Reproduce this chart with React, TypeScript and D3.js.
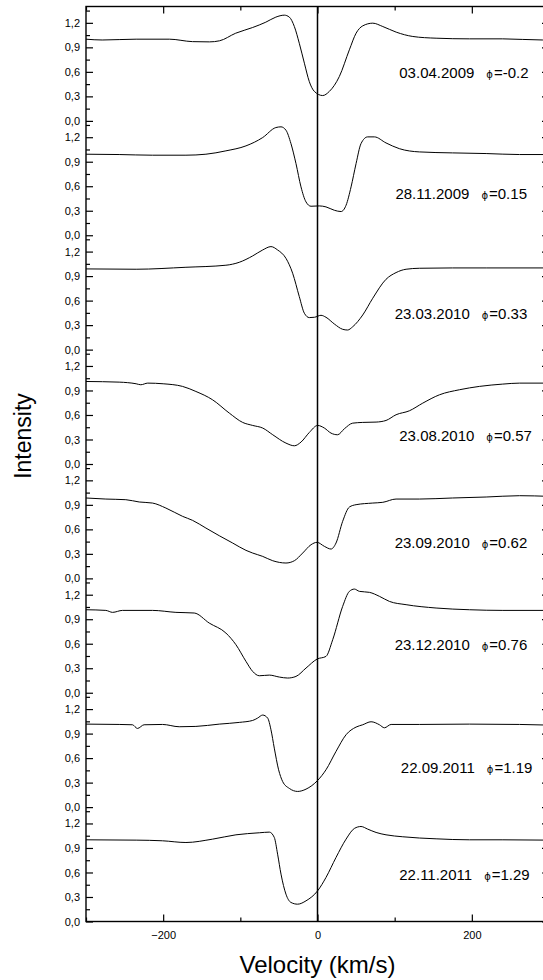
import React, { useEffect, useRef } from 'react';
import * as d3 from 'd3';

// observation dates and phases, one per panel (top to bottom)
const dates = ['03.04.2009', '28.11.2009', '23.03.2010', '23.08.2010', '23.09.2010', '23.12.2010', '22.09.2011', '22.11.2011'];
const phases = ['-0.2', '0.15', '0.33', '0.57', '0.62', '0.76', '1.19', '1.29'];
// where each label sits, in velocity / intensity units of its panel
const labelV = [106, 101, 100, 106, 100, 100, 108, 106];
const labelI = [0.59, 0.5, 0.44, 0.345, 0.43, 0.58, 0.48, 0.57];

const yTicks = [0, 0.3, 0.6, 0.9, 1.2];
const yMinorTicks = [0.15, 0.45, 0.75, 1.05, 1.35];
const xTicks = [-200, 0, 200];
const xMinorTicks = [-300, -100, 100, 300];

// profiles: [velocity km/s, intensity]
const spec1 = [
  [-300, 1.0], [-279, 0.99], [-235, 1.0], [-192, 1.0], [-162, 0.97], [-140, 0.967], [-127, 0.98],
  [-106, 1.073], [-84, 1.143], [-67, 1.208], [-54, 1.27], [-43, 1.294], [-36.5, 1.27], [-30, 1.155],
  [-23.6, 0.95], [-17, 0.706], [-10.6, 0.48], [-4, 0.36], [6.7, 0.31], [15.3, 0.36], [28.3, 0.543],
  [41.3, 0.87], [50, 1.073], [58.6, 1.163], [71.6, 1.196], [84.6, 1.155], [102, 1.086], [123.5, 1.033],
  [153.7, 1.012], [197, 1.004], [240, 1.004], [292, 0.99], [300, 0.99],
];
const spec2 = [
  [-300, 0.992], [-257, 0.988], [-214, 0.98], [-170.5, 0.98], [-144.6, 0.992], [-118.7, 1.033],
  [-92.7, 1.094], [-71, 1.196], [-54, 1.318], [-47.3, 1.327], [-40.9, 1.286], [-34.4, 1.122],
  [-27.9, 0.878], [-21.4, 0.592], [-14.9, 0.408], [-8.4, 0.355], [2.4, 0.359], [11, 0.347],
  [21.8, 0.306], [30.5, 0.29], [37, 0.367], [43.5, 0.592], [50, 0.878], [56.4, 1.122], [65, 1.204],
  [73.7, 1.204], [88.8, 1.13], [106, 1.06], [132, 1.02], [175, 1.008], [218.6, 1.0], [261.8, 0.988],
  [300, 0.988],
];
const spec3 = [
  [-300, 0.988], [-235, 0.984], [-170.5, 1.008], [-118.7, 1.033], [-101.4, 1.069], [-84, 1.147],
  [-71, 1.22], [-60.3, 1.261], [-51.7, 1.22], [-40.9, 1.118], [-32.2, 0.935], [-23.6, 0.649],
  [-17, 0.445], [-10.6, 0.392], [-4, 0.396], [4.5, 0.42], [11, 0.396], [21.8, 0.314], [32.6, 0.249],
  [39, 0.24], [45.6, 0.28], [58.6, 0.424], [71.6, 0.629], [88.8, 0.861], [101.8, 0.943],
  [114.8, 0.984], [132, 0.996], [175, 1.0], [218.6, 1.0], [300, 1.0],
];
const spec4 = [
  [-300, 1.01], [-257, 1.002], [-235, 0.982], [-229, 0.97], [-220, 0.99], [-200, 0.982],
  [-175, 0.95], [-157.6, 0.888], [-136, 0.786], [-114.3, 0.623], [-97, 0.509], [-84, 0.472],
  [-71, 0.44], [-58, 0.358], [-40.9, 0.256], [-30, 0.223], [-21.4, 0.268], [-10.6, 0.386],
  [0.2, 0.472], [8.9, 0.44], [17.5, 0.378], [26, 0.358], [34.8, 0.431], [45.6, 0.5], [58.6, 0.509],
  [75.9, 0.513], [88.8, 0.533], [101.8, 0.603], [119, 0.651], [136.4, 0.745], [158, 0.847],
  [184, 0.909], [210, 0.95], [240, 0.978], [262, 0.99], [300, 0.99],
];
const spec5 = [
  [-300, 0.984], [-274.3, 0.971], [-248.4, 0.963], [-231, 0.935], [-213.8, 0.922], [-196.5, 0.861],
  [-174.8, 0.759], [-161.9, 0.71], [-144.6, 0.616], [-127.3, 0.522], [-110, 0.433], [-92.7, 0.343],
  [-84, 0.31], [-71, 0.269], [-58, 0.216], [-40.9, 0.188], [-30, 0.216], [-19.2, 0.31], [-8.4, 0.412],
  [-0.6, 0.441], [8.9, 0.392], [17.5, 0.359], [24, 0.433], [32.6, 0.698], [41.3, 0.873], [50, 0.902],
  [71.6, 0.922], [84.6, 0.931], [101.8, 0.971], [132, 0.971], [175, 0.984], [218.6, 0.996],
  [261.8, 1.012], [300, 1.004],
];
const spec6 = [
  [-300, 1.016], [-274.3, 1.008], [-265.6, 0.984], [-252.7, 1.008], [-213.8, 1.008], [-183.5, 0.984],
  [-159.8, 0.976], [-140.3, 0.853], [-118.7, 0.731], [-105.7, 0.588], [-92.7, 0.384], [-84, 0.261],
  [-75.4, 0.208], [-62.4, 0.216], [-49.4, 0.192], [-38.7, 0.18], [-27.9, 0.2], [-14.9, 0.302],
  [-0.6, 0.412], [11, 0.445], [19.7, 0.649], [32.6, 1.057], [41.3, 1.241], [47.8, 1.269],
  [54.3, 1.241], [67.3, 1.229], [80.3, 1.18], [93.2, 1.118], [114.8, 1.078], [153.7, 1.037],
  [197, 1.016], [240.2, 1.008], [300, 1.008],
];
const spec7 = [
  [-300, 1.016], [-257, 1.012], [-239.8, 1.008], [-233.3, 0.963], [-224.7, 1.008], [-200.9, 1.012],
  [-179.2, 0.984], [-157.6, 0.988], [-127.3, 1.016], [-101.4, 1.037], [-84, 1.061], [-77.6, 1.09],
  [-71, 1.127], [-64.6, 1.09], [-60.3, 0.947], [-56, 0.722], [-50.4, 0.457], [-45.2, 0.314],
  [-36.5, 0.229], [-25.7, 0.192], [-14.9, 0.22], [0.2, 0.327], [11, 0.457], [24, 0.682], [37, 0.886],
  [50, 0.98], [58.6, 1.008], [69.4, 1.045], [80.3, 1.008], [86.7, 0.971], [95.4, 1.012], [132, 1.012],
  [197, 1.016], [261.8, 1.012], [300, 1.004],
];
const spec8 = [
  [-300, 1.0], [-235, 0.996], [-200.9, 0.988], [-170.5, 0.967], [-136, 1.008], [-105.7, 1.061],
  [-75.4, 1.086], [-62.4, 1.094], [-56, 1.029], [-51.7, 0.824], [-47.3, 0.58], [-40.9, 0.335],
  [-34.4, 0.233], [-25.7, 0.212], [-14.9, 0.253], [0.2, 0.376], [11, 0.539], [24, 0.784], [37, 1.008],
  [47.8, 1.139], [56.4, 1.163], [65, 1.131], [75.9, 1.09], [88.8, 1.061], [110.5, 1.037],
  [153.7, 1.012], [197, 1.0], [240.2, 1.0], [300, 0.996],
];
const spectra = [spec1, spec2, spec3, spec4, spec5, spec6, spec7, spec8];

const comma = (d: number) => d3.format('.1f')(d).replace('.', ',');
const font = 'Liberation Sans, Arial, sans-serif';

function App() {
  const ref = useRef<SVGSVGElement>(null);

  useEffect(() => {
    const width = 543;
    const height = 980;
    const top = 6.5;
    const bottom = 921.5;
    const left = 86;
    const right = 549; // right frame sits just outside the picture
    const ph = (bottom - top) / spectra.length;

    const svg = d3.select(ref.current);
    svg.selectAll('*').remove();
    svg.attr('width', width).attr('height', height);

    const x = d3.scaleLinear().domain([-300, 300]).range([left, right]);

    svg.append('defs').append('clipPath').attr('id', 'plot')
      .append('rect').attr('x', left).attr('y', top).attr('width', right - left).attr('height', bottom - top);

    spectra.forEach((spec, i) => {
      const y = d3.scaleLinear().domain([0, 1.4]).range([top + (i + 1) * ph, top + i * ph]);

      // left axis, ticks pointing inward
      const gl = svg.append('g').attr('transform', `translate(${left},0)`)
        .call(d3.axisLeft(y).tickValues(yTicks).tickSizeInner(-7).tickSizeOuter(0).tickPadding(6).tickFormat(comma as any));
      gl.select('.domain').remove();
      gl.selectAll('text').style('font-family', font).style('font-size', '11px').attr('fill', '#000');
      const glm = svg.append('g').attr('transform', `translate(${left},0)`)
        .call(d3.axisLeft(y).tickValues(yMinorTicks).tickSizeInner(-4).tickSizeOuter(0).tickFormat(() => ''));
      glm.select('.domain').remove();

      // right axis ticks
      const gr = svg.append('g').attr('transform', `translate(${right},0)`)
        .call(d3.axisRight(y).tickValues(yTicks).tickSizeInner(-7).tickSizeOuter(0).tickFormat(() => ''));
      gr.select('.domain').remove();
      const grm = svg.append('g').attr('transform', `translate(${right},0)`)
        .call(d3.axisRight(y).tickValues(yMinorTicks).tickSizeInner(-4).tickSizeOuter(0).tickFormat(() => ''));
      grm.select('.domain').remove();

      const line = d3.line<number[]>()
        .x(d => x(d[0]))
        .y(d => y(d[1]))
        .curve(d3.curveMonotoneX);

      svg.append('path')
        .datum(spec)
        .attr('clip-path', 'url(#plot)')
        .attr('fill', 'none')
        .attr('stroke', '#000')
        .attr('stroke-width', 1)
        .attr('d', line);

      const label = svg.append('text')
        .attr('x', x(labelV[i]))
        .attr('y', y(labelI[i]) + 5)
        .style('font-family', font)
        .style('font-size', '15px')
        .attr('fill', '#000');
      label.append('tspan').text(dates[i]);
      label.append('tspan').attr('dx', 12)
        .style('font-family', 'DejaVu Sans, sans-serif')
        .style('font-size', '10px')
        .attr('fill', '#000')
        .text('ϕ');
      label.append('tspan').attr('dx', 1).text('=' + phases[i]);
    });

    // bottom axis
    const gb = svg.append('g').attr('transform', `translate(0,${bottom})`)
      .call(d3.axisBottom(x).tickValues(xTicks).tickSizeInner(-7).tickSizeOuter(0).tickPadding(9.5).tickFormat(d3.format('d') as any));
    gb.select('.domain').remove();
    gb.selectAll('text').style('font-family', font).style('font-size', '11px').attr('fill', '#000');
    const gbm = svg.append('g').attr('transform', `translate(0,${bottom})`)
      .call(d3.axisBottom(x).tickValues(xMinorTicks).tickSizeInner(-4).tickSizeOuter(0).tickFormat(() => ''));
    gbm.select('.domain').remove();

    // top axis
    const gt = svg.append('g').attr('transform', `translate(0,${top})`)
      .call(d3.axisTop(x).tickValues(xTicks).tickSizeInner(-7).tickSizeOuter(0).tickFormat(() => ''));
    gt.select('.domain').remove();
    const gtm = svg.append('g').attr('transform', `translate(0,${top})`)
      .call(d3.axisTop(x).tickValues(xMinorTicks).tickSizeInner(-4).tickSizeOuter(0).tickFormat(() => ''));
    gtm.select('.domain').remove();

    svg.selectAll('.tick line').attr('stroke', '#000').attr('stroke-width', 1.2);

    // frame
    svg.append('rect')
      .attr('x', left).attr('y', top)
      .attr('width', right - left).attr('height', bottom - top)
      .attr('fill', 'none').attr('stroke', '#000').attr('stroke-width', 1.4);

    // zero velocity line
    svg.append('line')
      .attr('x1', x(0)).attr('x2', x(0))
      .attr('y1', top).attr('y2', bottom)
      .attr('stroke', '#000').attr('stroke-width', 1.5);

    // axis titles
    svg.append('text')
      .attr('x', x(0)).attr('y', 973)
      .attr('text-anchor', 'middle')
      .style('font-family', font)
      .style('font-size', '24px')
      .text('Velocity (km/s)');

    svg.append('text')
      .attr('transform', 'translate(31,436) rotate(-90)')
      .attr('text-anchor', 'middle')
      .style('font-family', font)
      .style('font-size', '23px')
      .text('Intensity');
  }, []);

  return (
    <svg ref={ref} style={{ position: 'absolute', left: 0, top: 0, background: '#fff' }} />
  );
}

export default App;
